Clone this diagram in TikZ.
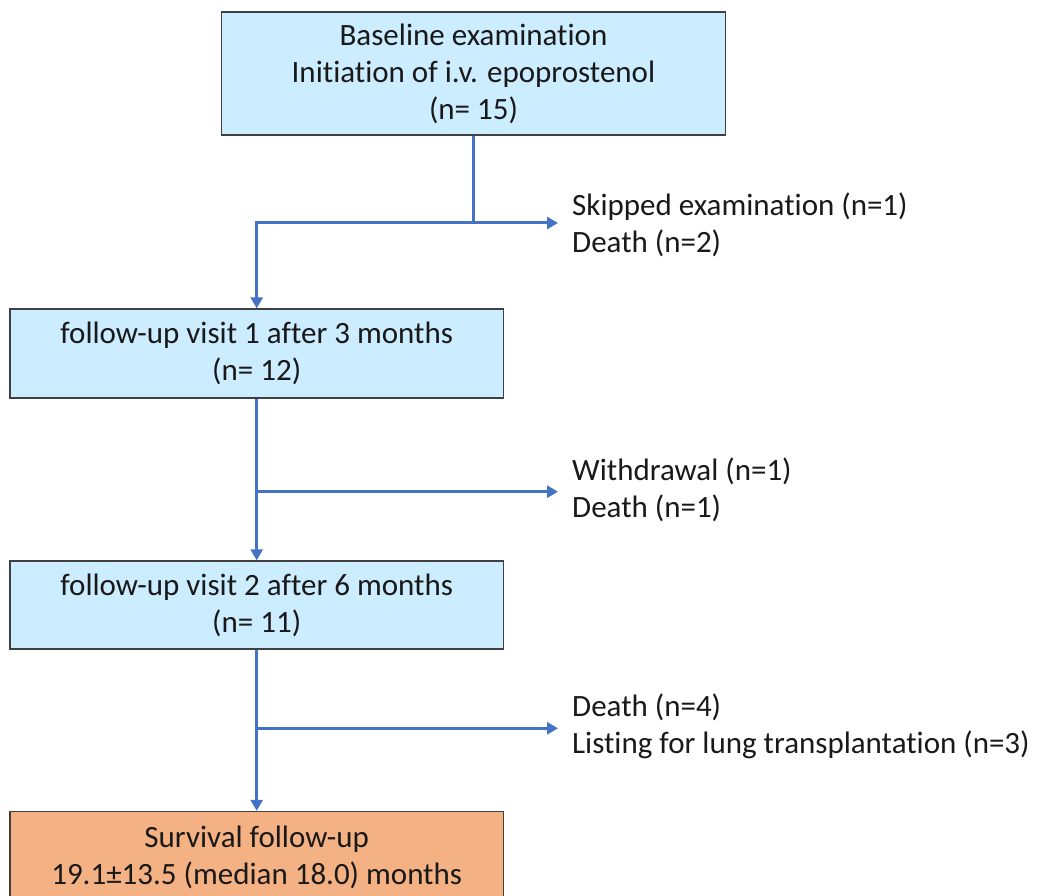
\documentclass[tikz,border=0pt]{standalone}
\usepackage{fontspec}
\setmainfont{Carlito}[Ligatures={NoCommon}]
\usetikzlibrary{arrows.meta}
\definecolor{boxblue}{RGB}{204,236,255}
\definecolor{boxorange}{RGB}{244,177,131}
\definecolor{linkblue}{RGB}{68,114,196}
\definecolor{edgegray}{RGB}{64,64,64}
\begin{document}
\begin{tikzpicture}[x=1pt,y=-1pt,
  every node/.style={font=\fontsize{31}{37}\selectfont, text=black!90},
  flowbox/.style={draw=edgegray, line width=1.3pt, fill=boxblue, align=center, inner sep=0pt},
  endbox/.style={flowbox, fill=boxorange},
  sidetext/.style={anchor=west, align=left, inner sep=0pt},
  link/.style={draw=linkblue, line width=3pt},
  linkarrow/.style={link, -{Triangle[length=11pt,width=12pt]}}
]
\useasboundingbox (0,0) rectangle (1039,896);
\clip (0,0) rectangle (1039,896);

\node[flowbox, minimum width=504pt, minimum height=123pt] (top) at (473.5,73.5)
  {Baseline examination\\Initiation of i.v. epoprostenol\\(n= 15)};
\node[flowbox, minimum width=493.5pt, minimum height=89pt] (b1) at (256.7,353.5)
  {follow-up visit 1 after 3 months\\(n= 12)};
\node[flowbox, minimum width=493.5pt, minimum height=88pt] (b2) at (256.7,605)
  {follow-up visit 2 after 6 months\\(n= 11)};
\node[endbox, minimum width=493.5pt, minimum height=92pt] (b3) at (256.7,857.5)
  {Survival follow-up\\19.1±13.5 (median 18.0) months};

\node[sidetext] (s1) at (572,225) {Skipped examination (n=1)\\Death (n=2)};
\node[sidetext] (s2) at (572,490) {Withdrawal (n=1)\\Death (n=1)};
\node[sidetext] (s3) at (572,726.5) {Death (n=4)\\Listing for lung transplantation (n=3)};

\coordinate (j1) at (473.5,223);
\coordinate (e1) at (558,223);
\coordinate (j2) at (256.7,491.7);
\coordinate (e2) at (558,491.7);
\coordinate (j3) at (256.7,728.3);
\coordinate (e3) at (558,728.3);

\draw[link] (top.south) -- (j1);
\draw[linkarrow] (j1) -- (e1);
\draw[linkarrow] (j1) -| (b1.north);

\draw[linkarrow] (b1.south) -- (b2.north);
\draw[linkarrow] (j2) -- (e2);

\draw[linkarrow] (b2.south) -- (b3.north);
\draw[linkarrow] (j3) -- (e3);
\end{tikzpicture}
\end{document}
